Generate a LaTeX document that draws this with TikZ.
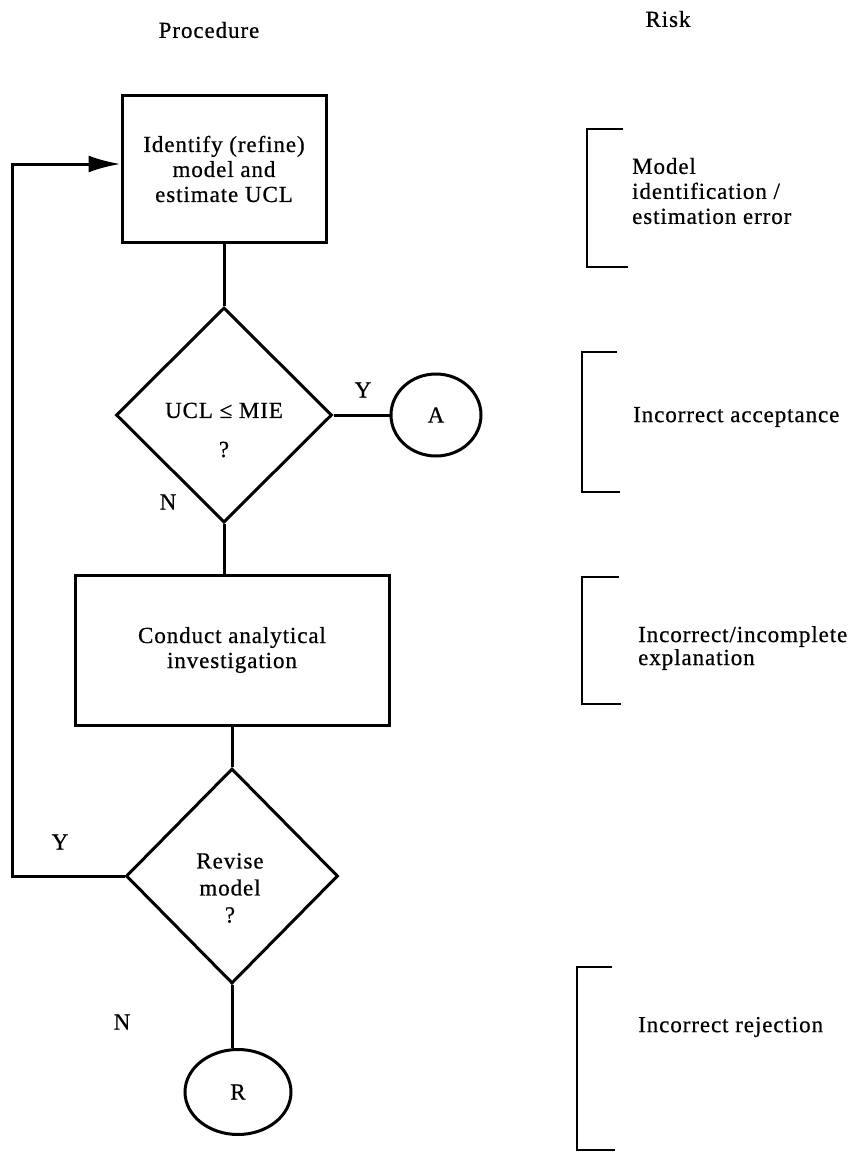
\documentclass[tikz,border=0pt]{standalone}
\usepackage{fontspec}
\setmainfont{Liberation Serif}[LetterSpace=4,FakeBold=0.6]
\usetikzlibrary{shapes.geometric,arrows.meta}
\begin{document}
\begin{tikzpicture}[x=1pt,y=-1pt,
  every node/.style={font=\fontsize{23}{25}\selectfont},
  ln/.style={line width=3pt,line join=miter},
  boxn/.style={draw,line width=3pt,rectangle,inner sep=0pt,align=center},
  dia/.style={draw,line width=3pt,diamond,aspect=1,inner sep=0pt},
  term/.style={draw,line width=3pt,ellipse,inner sep=0pt},
  txt/.style={align=center,inner sep=0pt},
  brk/.style={line width=2.6pt,line join=miter},
  rtxt/.style={align=left,anchor=west,inner sep=0pt}]
\useasboundingbox (0,0) rectangle (864,1152);
\fill[white] (0,0) rectangle (864,1152);

% headers
\node[txt] (hproc) at (209,30) {Procedure};
\node[txt] (hrisk) at (668,19) {Risk};

% procedure column
\node[boxn,minimum width=204,minimum height=147] (b1) at (224,169) {Identify (refine)\\model and\\estimate UCL};
\node[dia,minimum width=216,minimum height=215] (d1) at (224,415) {};
\node[txt] (d1t) at (224,430) {UCL ≤ MIE\\[14pt]?};
\node[term,minimum width=90,minimum height=82] (A) at (436,415) {A};
\node[txt] (y1) at (363,390) {Y};
\node[txt] (n1) at (168,502) {N};

\node[boxn,minimum width=314,minimum height=150] (b2) at (232,650) {Conduct analytical\\investigation};
\node[dia,minimum width=212,minimum height=215] (d2) at (232,876) {};
\node[txt,font=\fontsize{23}{27}\selectfont] (d2t) at (230,888) {Revise\\model\\?};
\node[txt] (y2) at (60,842) {Y};
\node[txt] (n2) at (122,1022) {N};
\node[term,minimum width=106,minimum height=85] (R) at (238,1092) {R};

% connectors
\draw[ln] (b1.south) -- (d1.north);
\draw[ln] (d1.east) -- (A.west);
\draw[ln] (d1.south) -- (d1.south |- b2.north);
\draw[ln] (b2.south) -- (d2.north);
\draw[ln] (d2.south) -- (d2.south |- R.north);
\coordinate (lx) at (12,164);
\draw[ln,-{Latex[length=32pt,width=17pt]}] (d2.west) -| (lx) -- (lx -| b1.west);

% risk column
\draw[brk] (623,129) -- (587,129) -- (587,267) -- (628,267);
\node[rtxt] (r1) at (632,191) {Model\\identification /\\estimation error};
\draw[brk] (617,352) -- (582,352) -- (582,492) -- (620,492);
\node[rtxt] (r2) at (633,417) {Incorrect acceptance};
\draw[brk] (619,577) -- (582,577) -- (582,704) -- (621,704);
\node[rtxt,font=\fontsize{23}{23}\selectfont] (r3) at (638,648) {Incorrect/incomplete\\explanation};
\draw[brk] (612,967) -- (577,967) -- (577,1150) -- (615,1150);
\node[rtxt] (r4) at (638,1027) {Incorrect rejection};
\end{tikzpicture}
\end{document}
